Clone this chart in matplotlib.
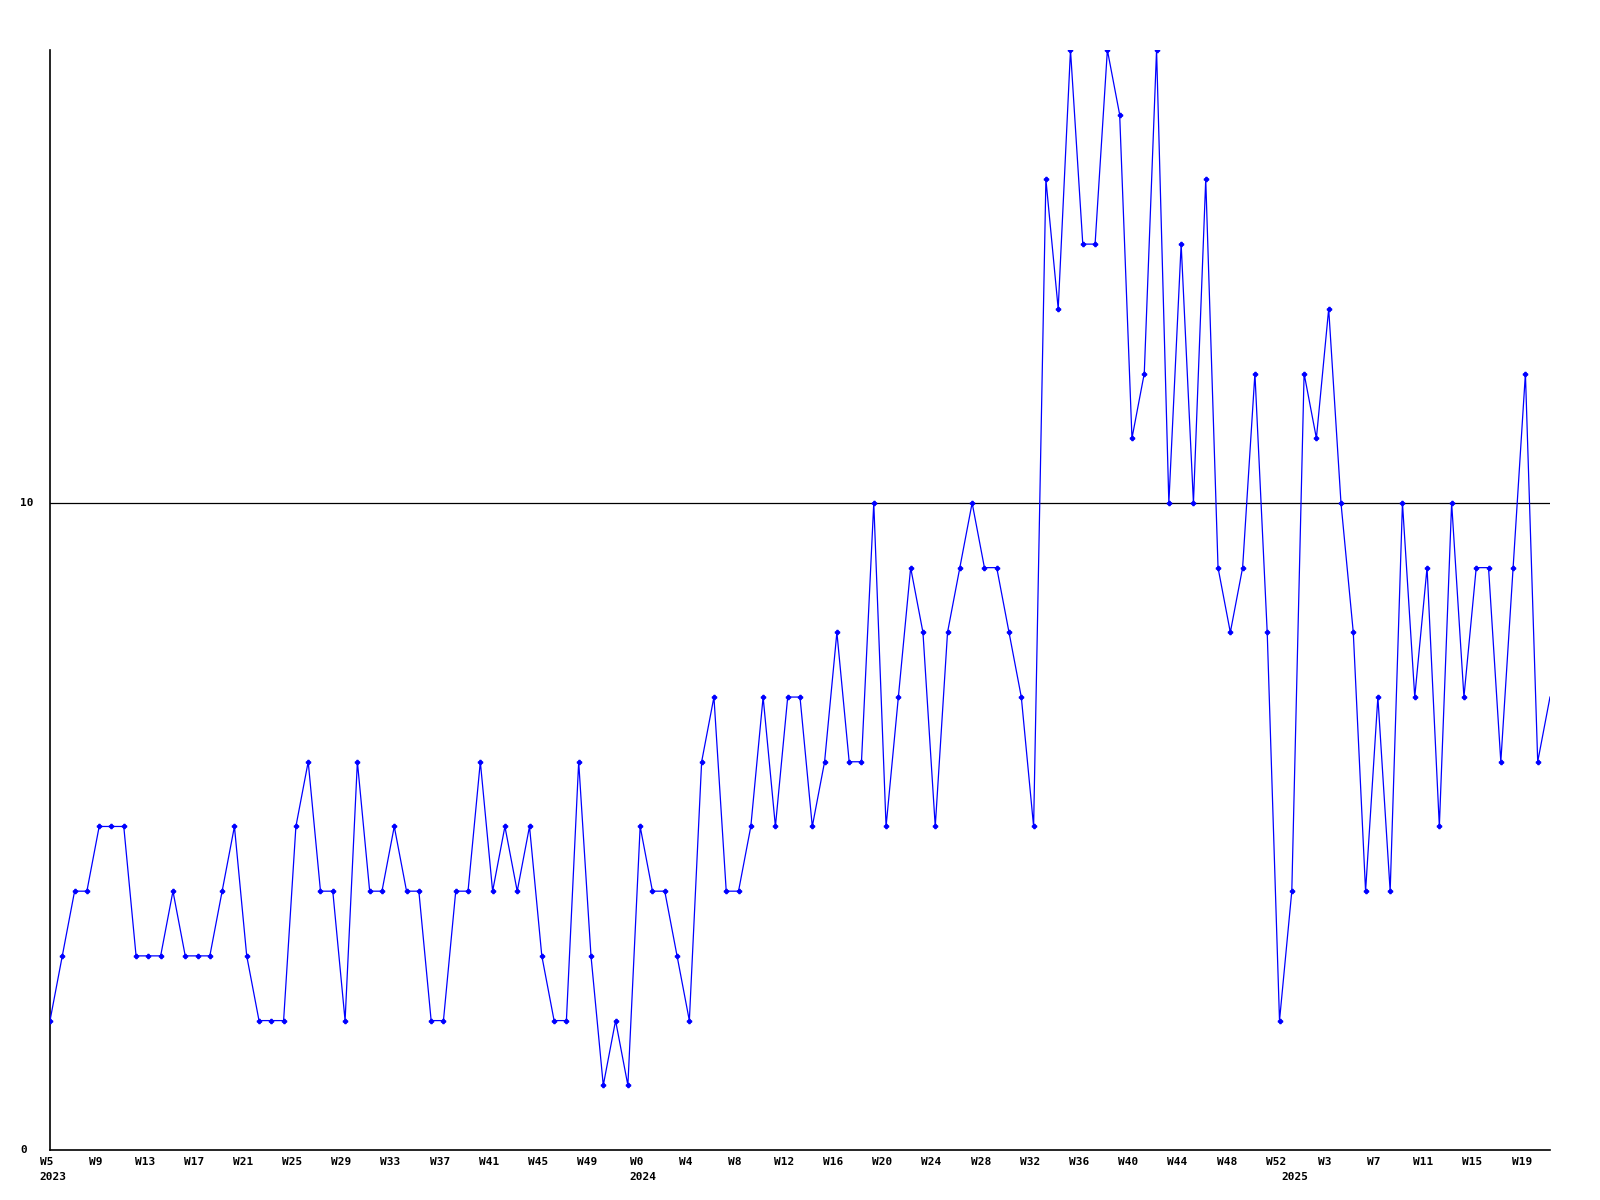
import matplotlib
import matplotlib.pyplot as plt
import numpy as np

matplotlib.use('Agg')

# weekly counts, 2023 W5 .. 2025 W21
values = [2, 3, 4, 4, 5, 5, 5, 3, 3, 3,
          4, 3, 3, 3, 4, 5, 3, 2, 2, 2,
          5, 6, 4, 4, 2, 6, 4, 4, 5, 4,
          4, 2, 2, 4, 4, 6, 4, 5, 4, 5,
          3, 2, 2, 6, 3, 1, 2, 1, 5, 4,
          4, 3, 2, 6, 7, 4, 4, 5, 7, 5,
          7, 7, 5, 6, 8, 6, 6, 10, 5, 7,
          9, 8, 5, 8, 9, 10, 9, 9, 8, 7,
          5, 15, 13, 17, 14, 14, 17, 16, 11, 12,
          17, 10, 14, 10, 15, 9, 8, 9, 12, 8,
          2, 4, 12, 11, 13, 10, 8, 4, 7, 4,
          10, 7, 9, 5, 10, 7, 9, 9, 6, 9,
          12, 6, 7]

week_labels = (['W%d' % w for w in range(5, 50, 4)]
               + ['W%d' % w for w in range(0, 53, 4)]
               + ['W%d' % w for w in range(3, 20, 4)])
year_labels = ['2023', '2024', '2025']
year_pos = [0, 48, 101]
ytick_vals = [0, 10]

xx = np.arange(len(values))

fig = plt.figure(figsize=(16, 12), dpi=100)
ax = fig.add_axes([50/1600, 50/1200, 1500/1600, 1100/1200])

ax.axhline(10, color='black', lw=0.9, zorder=1)
ax.plot(xx, values, color='#0000ff', lw=0.9, marker='P', ms=3,
        mec='#0000ff', mfc='#0000ff', markevery=slice(0, len(values) - 1),
        zorder=3)

ax.set_xlim(0, len(values) - 1)
ax.set_ylim(0, 17)

for s in ['top', 'right']:
    ax.spines[s].set_visible(False)
for s in ['left', 'bottom']:
    ax.spines[s].set_linewidth(1.2)
    ax.spines[s].set_color('black')

ax.set_xticks([])
ax.set_yticks([])

font = dict(family='DejaVu Sans Mono', fontweight='bold', fontsize=8)
xtr = ax.get_xaxis_transform()
for i, lab in enumerate(week_labels):
    ax.text(4*i - 0.3, -0.011, lab, transform=xtr, ha='center', va='center', **font)
for p, lab in zip(year_pos, year_labels):
    ax.text(p + 0.25, -0.0245, lab, transform=xtr, ha='center', va='center', **font)

ytr = ax.get_yaxis_transform()
for v in ytick_vals:
    ax.text(-0.02, v, str(v), transform=ytr, ha='left', va='center', **font)

fig.savefig('out.png', dpi=100)
plt.close(fig)
